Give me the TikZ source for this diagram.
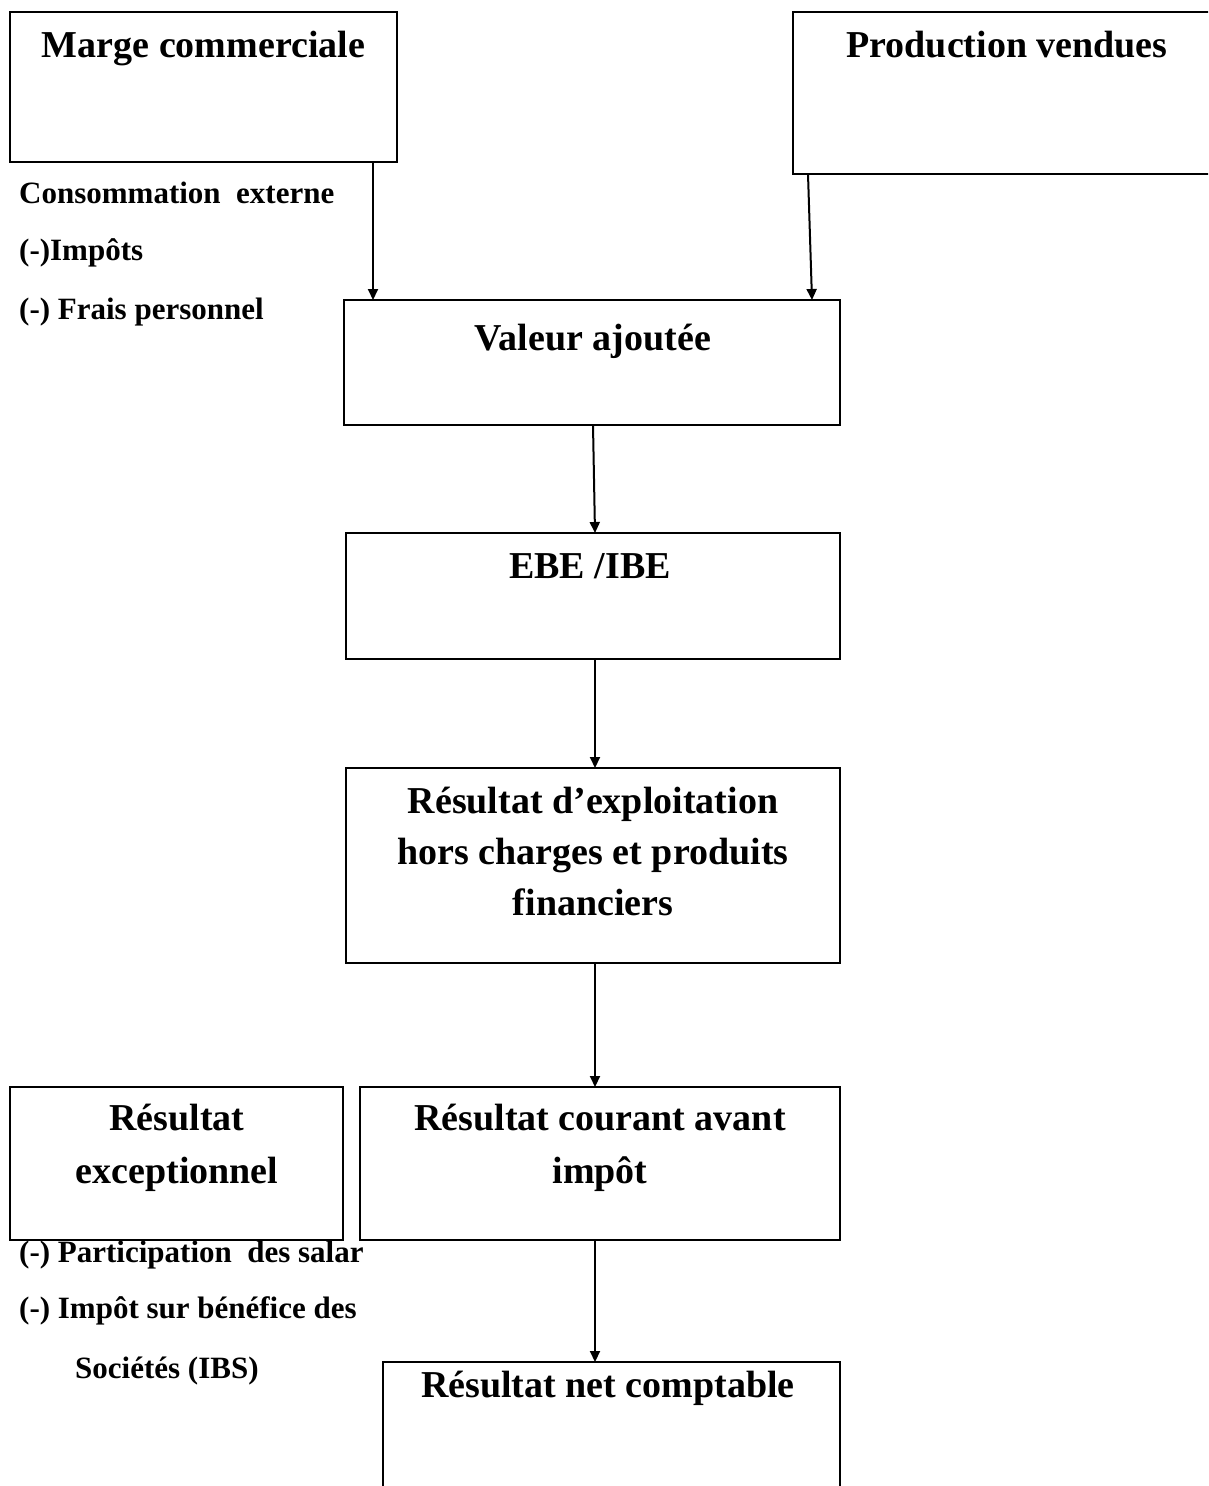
\documentclass[tikz,border=0pt]{standalone}
\usepackage{fontspec}
\setmainfont{Liberation Serif}
\usetikzlibrary{arrows.meta}

\tikzset{
  box/.style={draw, line width=2pt, inner sep=0pt, outer sep=0pt, rectangle},
  title/.style={anchor=base, inner sep=0pt, font=\fontsize{38}{51}\selectfont\bfseries, align=center},
  side/.style={anchor=base west, inner sep=0pt, font=\fontsize{31}{36}\selectfont\bfseries},
  flow/.style={line width=2pt, -{Triangle[length=11pt,width=10pt]}},
}

\begin{document}
\begin{tikzpicture}[x=1pt, y=-1pt]
  \useasboundingbox (0,0) rectangle (1208,1486);
  \clip (0,0) rectangle (1208,1486);

  % boxes
  \node[box, minimum width=387pt, minimum height=150pt] (mc) at (203.5,87) {};
  \node[box, minimum width=428pt, minimum height=162pt] (pv) at (1007,93) {};
  \node[box, minimum width=496pt, minimum height=125pt] (va) at (592,362.5) {};
  \node[box, minimum width=494pt, minimum height=126pt] (ebe) at (593,596) {};
  \node[box, minimum width=494pt, minimum height=195pt] (rex) at (593,865.5) {};
  \node[box, minimum width=333pt, minimum height=153pt] (rexc) at (176.5,1163.5) {};
  \node[box, minimum width=480pt, minimum height=153pt] (rcai) at (600,1163.5) {};
  \node[box, minimum width=457pt, minimum height=160pt] (rnc) at (611.5,1442) {};

  % titles
  \node[title] (tmc) at (203.5,57) {Marge commerciale};
  \node[title] (tpv) at (1007,57) {Production vendues};
  \node[title] (tva) at (593,350) {Valeur ajoutée};
  \node[title] (tebe) at (590,578) {EBE /IBE};
  \node[title] (trex1) at (593,813) {Résultat d’exploitation};
  \node[title] (trex2) at (593,864) {hors charges et produits};
  \node[title] (trex3) at (593,915) {financiers};
  \node[title] (trexc1) at (177,1130) {Résultat};
  \node[title] (trexc2) at (177,1183) {exceptionnel};
  \node[title] (trcai1) at (600,1130) {Résultat courant avant};
  \node[title] (trcai2) at (600,1183) {impôt};
  \node[title] (trnc) at (608,1397) {Résultat net comptable};

  % deductions written beside the flow
  \node[side] (s1) at (19,203) {Consommation\ \ externe};
  \node[side] (s2) at (19,260) {(-)Impôts};
  \node[side] (s3) at (19,319) {(-) Frais\ personnel};
  \node[side] (s4) at (19,1262) {(-) Participation\ \ des salar};
  \node[side] (s5) at (19,1318) {(-) Impôt\ sur bénéfice des};
  \node[side] (s6) at (75,1378) {Sociétés (IBS)};

  % connectors
  \draw[flow] (mc.south -| 373,0) -- (va.north -| 373,0);
  \draw[flow] (pv.south -| 808,0) -- (va.north -| 812,0);
  \draw[flow] (va.south -| 593,0) -- (ebe.north -| 595,0);
  \draw[flow] (ebe.south -| 595,0) -- (rex.north -| 595,0);
  \draw[flow] (rex.south -| 595,0) -- (rcai.north -| 595,0);
  \draw[flow] (rcai.south -| 595,0) -- (rnc.north -| 595,0);
\end{tikzpicture}
\end{document}
